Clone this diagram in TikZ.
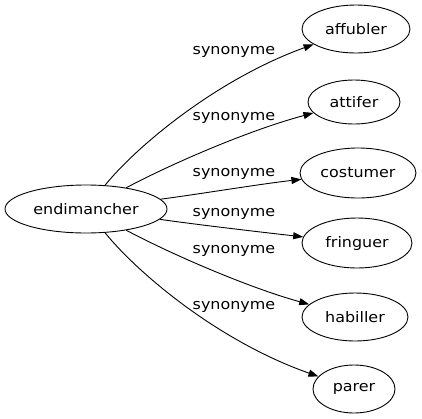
\documentclass[tikz,border=0pt]{standalone}
\usepackage{fontspec}
\setmainfont{DejaVu Sans}[FakeStretch=1.1]
\usetikzlibrary{shapes.geometric,arrows.meta}
\begin{document}
\begin{tikzpicture}[x=1bp,y=-1bp,
  word/.style={draw,ellipse,inner sep=0pt,line width=0.9bp,font=\fontsize{14.5bp}{17bp}\selectfont},
  lab/.style={inner sep=0pt,font=\fontsize{14.5bp}{17bp}\selectfont},
  syn/.style={line width=0.9bp,-{Triangle[length=10bp,width=7bp]}}]
\useasboundingbox (0,0) rectangle (422,419);
\node[word,minimum width=162bp,minimum height=48bp] (e) at (86,209) {endimancher};
\node[word,minimum width=108bp,minimum height=48bp] (a) at (356,29) {affubler};
\node[word,minimum width=92bp,minimum height=44bp] (b) at (354,102) {attifer};
\node[word,minimum width=116bp,minimum height=50bp] (c) at (358,173) {costumer};
\node[word,minimum width=110bp,minimum height=50bp] (d) at (357,243) {fringuer};
\node[word,minimum width=106bp,minimum height=48bp] (f) at (355,317) {habiller};
\node[word,minimum width=82bp,minimum height=48bp] (g) at (354,389) {parer};
\node[lab] (la) at (234,52) {synonyme};
\node[lab] (lb) at (234,118) {synonyme};
\node[lab] (lc) at (234,174) {synonyme};
\node[lab] (ld) at (234,214) {synonyme};
\node[lab] (lf) at (234,251) {synonyme};
\node[lab] (lg) at (234,307) {synonyme};
\draw[syn] (e) .. controls (135,148) and (215,80) .. (a);
\draw[syn] (e) .. controls (175,162) and (250,130) .. (b);
\draw[syn] (e) .. controls (200,194) and (260,184) .. (c);
\draw[syn] (e) .. controls (200,225) and (260,232) .. (d);
\draw[syn] (e) .. controls (175,256) and (250,288) .. (f);
\draw[syn] (e) .. controls (135,270) and (215,340) .. (g);
\end{tikzpicture}
\end{document}
